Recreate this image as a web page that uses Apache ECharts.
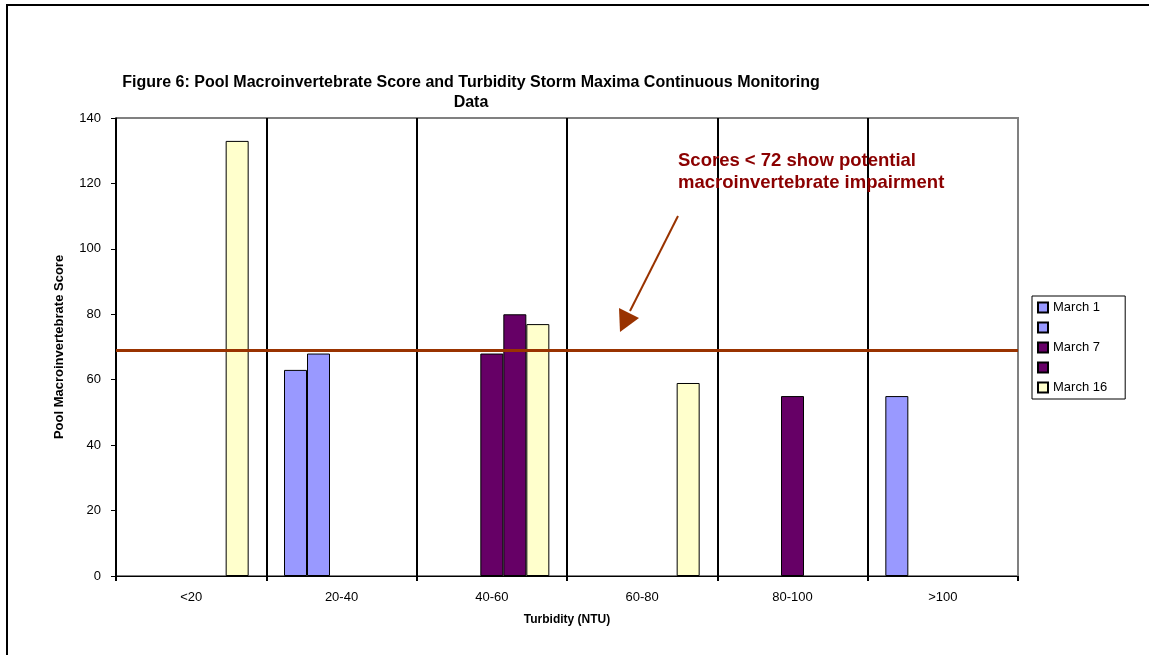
<!DOCTYPE html>
<html>
<head>
<meta charset="utf-8">
<script src="https://cdn.jsdelivr.net/npm/echarts@6/dist/echarts.min.js"></script>
<style>
html,body{margin:0;padding:0;background:#fff;}
#chart{width:1149px;height:655px;}
</style>
</head>
<body>
<div id="chart"></div>
<script>
const categories = ['<20', '20-40', '40-60', '60-80', '80-100', '>100'];
const seriesNames = ['March 1', ' ', 'March 7', '  ', 'March 16'];
const seriesColors = ['#9999FF', '#9999FF', '#660066', '#660066', '#FFFFCC'];
const march1 = [null, 63, null, null, null, 55];
const march1b = [null, 68, null, null, null, null];
const march7 = [null, null, 68, null, 55, null];
const march7b = [null, null, 80, null, null, null];
const march16 = [133, null, 77, 59, null, null];
const seriesValues = [march1, march1b, march7, march7b, march16];
const thresholdValue = 69;
const yMin = 0, yMax = 140, yInterval = 20;
const titleText = 'Figure 6: Pool Macroinvertebrate Score and Turbidity Storm Maxima Continuous Monitoring\nData';
const noteText = 'Scores < 72 show potential\nmacroinvertebrate impairment';

const FONT = 'Liberation Sans, Arial, sans-serif';
const chart = echarts.init(document.getElementById('chart'), null, {renderer: 'canvas'});

const series = seriesNames.map((n, i) => {
  const s = {
    name: n,
    type: 'bar',
    data: seriesValues[i],
    barWidth: 23,
    barGap: '0%',
    itemStyle: {color: seriesColors[i], borderColor: '#000', borderWidth: 1},
    emphasis: {disabled: true},
    z: 2
  };
  if (i === 0) {
    s.markLine = {
      silent: true,
      symbol: ['none', 'none'],
      label: {show: false},
      lineStyle: {color: '#993300', width: 3, type: 'solid'},
      emphasis: {disabled: true},
      data: [{yAxis: thresholdValue}],
      z: 10
    };
  }
  return s;
});

chart.setOption({
  animation: false,
  backgroundColor: '#fff',
  title: {
    text: titleText,
    left: 466,
    top: 68,
    textAlign: 'center',
    textStyle: {fontFamily: FONT, fontSize: 16, fontWeight: 'bold', color: '#000', lineHeight: 20}
  },
  legend: {
    orient: 'vertical',
    left: 1032,
    top: 296,
    itemWidth: 10,
    itemHeight: 10,
    itemGap: 7,
    padding: [5, 18, 5, 5],
    borderColor: '#000',
    borderWidth: 1,
    selectedMode: false,
    icon: 'rect',
    data: seriesNames,
    textStyle: {fontFamily: FONT, fontSize: 13, color: '#000'}
  },
  grid: {
    left: 116, top: 118, right: 131, bottom: 79,
    show: true, borderColor: '#808080', borderWidth: 2, backgroundColor: '#fff'
  },
  xAxis: {
    type: 'category',
    data: categories,
    boundaryGap: true,
    axisLine: {lineStyle: {color: '#000', width: 1}},
    axisTick: {show: true, length: 5, lineStyle: {color: '#000', width: 2}},
    splitLine: {show: true, lineStyle: {color: '#000', width: 2}},
    axisLabel: {fontFamily: FONT, fontSize: 13, color: '#000', margin: 15},
    name: 'Turbidity (NTU)',
    nameLocation: 'middle',
    nameGap: 38,
    nameTextStyle: {fontFamily: FONT, fontSize: 12, fontWeight: 'bold', color: '#000'}
  },
  yAxis: {
    type: 'value',
    min: yMin, max: yMax, interval: yInterval,
    axisLine: {show: true, lineStyle: {color: '#000', width: 1}},
    axisTick: {show: true, length: 5, lineStyle: {color: '#000'}},
    splitLine: {show: false},
    axisLabel: {fontFamily: FONT, fontSize: 13, color: '#000', margin: 15},
    name: 'Pool Macroinvertebrate Score',
    nameLocation: 'middle',
    nameGap: 50,
    nameTextStyle: {fontFamily: FONT, fontSize: 13, fontWeight: 'bold', color: '#000'}
  },
  series: series,
  graphic: [
    {type: 'line', shape: {x1: 6, y1: 5, x2: 1149, y2: 5}, style: {stroke: '#000', lineWidth: 2}},
    {type: 'line', shape: {x1: 7, y1: 4, x2: 7, y2: 655}, style: {stroke: '#000', lineWidth: 2}},
    {type: 'line', z: 5, shape: {x1: 1018, y1: 117, x2: 1018, y2: 576}, style: {stroke: '#808080', lineWidth: 2}},
    {type: 'text', left: 678, top: 150, z: 20,
     style: {text: noteText, fill: '#8B0000', font: 'bold 18.5px ' + FONT, lineHeight: 22}},
    {type: 'line', z: 20, shape: {x1: 678, y1: 216, x2: 630, y2: 311}, style: {stroke: '#993300', lineWidth: 2}},
    {type: 'polygon', z: 20, shape: {points: [[620, 332], [619, 308], [639, 318]]}, style: {fill: '#993300'}}
  ]
});
</script>
</body>
</html>
